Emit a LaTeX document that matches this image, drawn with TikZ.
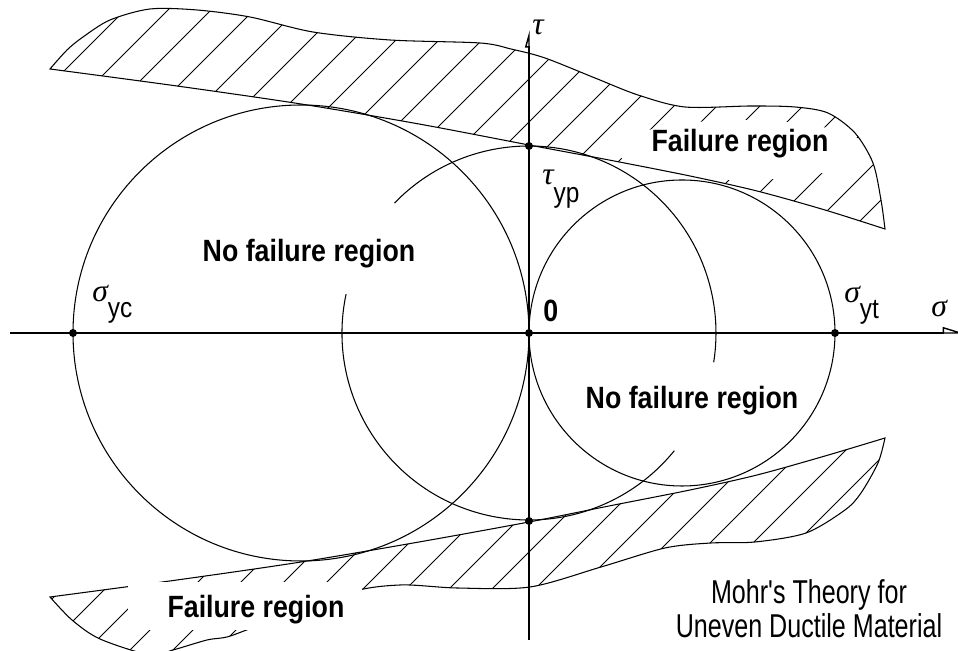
\documentclass[tikz,border=0pt]{standalone}
\usepackage{fontspec}
\usepackage{tikz}
\usetikzlibrary{arrows.meta, positioning}
\newfontfamily\labelfont[FakeStretch=0.87]{Liberation Sans}
\newfontfamily\notefont[FakeStretch=0.76]{Liberation Sans}
\newfontfamily\greekfont{Liberation Serif}
\newcommand\gsym[1]{{\greekfont\itshape\fontsize{18}{20}\selectfont #1}}

% outlines of the two hatched failure regions (1 unit = 1 px of the sketch)
\newcommand\upperband{plot[smooth] coordinates {(-479,264) (-462,283) (-446,296)
  (-419,313) (-379,324) (-332,323) (-279,316) (-216,301) (-139,293) (-49,290)
  (-18,284) (16,275) (66,255) (109,238) (156,226) (222,227) (266,226) (299,220)
  (326,200) (344,170) (352,133) (356,104)}
  -- plot[smooth] coordinates {(356,104) (296,123) (228,142) (161,157) (80,173)
  (0,188) (-110,209) (-228,229) (-352,247) (-479,264)} -- cycle}
\newcommand\lowerband{plot[smooth] coordinates {(-479,-264) (-352,-247)
  (-228,-229) (-110,-209) (0,-189) (80,-173) (161,-157) (228,-142) (296,-123)
  (356,-105)}
  -- plot[smooth] coordinates {(356,-105) (349,-130) (332,-160) (316,-177)
  (277,-200) (226,-209) (182,-210) (136,-215) (72,-234) (1,-254) (-72,-255)
  (-129,-252) (-182,-260) (-277,-295) (-302,-304) (-322,-307) (-356,-317)
  (-379,-322) (-429,-306) (-457,-287) (-479,-264)} -- cycle}

\begin{document}
\begin{tikzpicture}[
  x=0.02cm, y=0.02cm,
  curve/.style={line width=0.6pt},
  hatch/.style={line width=0.5pt},
  axis/.style={line width=0.8pt},
  dot/.style={circle, fill, inner sep=0pt, minimum size=0.16cm},
  region/.style={font=\labelfont\bfseries\fontsize{17.5}{21}\selectfont,
                 inner sep=0pt, anchor=base},
  sym/.style={font=\labelfont\fontsize{16}{19}\selectfont, inner sep=0pt,
              anchor=base west},
  note/.style={font=\notefont\fontsize{18.8}{19.3}\selectfont, align=center,
               inner sep=0pt},
]
\useasboundingbox (-529,-318) rectangle (429,333);

% Hatching
\begin{scope}
  \clip \upperband;
  \foreach \sh in {-856,-813,...,692}
    \draw[hatch] (\sh,0) ++(-400,-400) -- ++(800,800);
\end{scope}
\begin{scope}
  \clip \lowerband;
  \foreach \sh in {-856,-813,...,692}
    \draw[hatch] (\sh,0) ++(-400,-400) -- ++(800,800);
\end{scope}
\fill[white] (213,183) ellipse [x radius=125, y radius=30];

\draw[curve] \upperband;
\draw[curve] \lowerband;

% Mohr circles
\coordinate (cl) at (-228,0);
\coordinate (cr) at (153,0);
\draw[curve] (cl) circle[radius=228];
\draw[curve] (cr) circle[radius=153];
\draw[curve] (0,0) ++(136:187) arc[start angle=136, end angle=-9, radius=187];
\draw[curve] (0,0) ++(168:187) arc[start angle=168, end angle=321, radius=187];

% Axes
\draw[axis, -{Triangle[open, harpoon, length=0.4cm, width=0.24cm]}]
  (-519,0) -- (436,0);
\draw[axis, -{Triangle[open, harpoon, length=0.3cm, width=0.16cm]}]
  (0,-307) -- (0,303);

\node[dot] (syc) at (-456,0) {};
\node[dot] (orig) at (0,0) {};
\node[dot] (syt) at (306,0) {};
\node[dot] (typ) at (0,187) {};
\node[dot] (tyn) at (0,-188) {};

% Labels
\node[sym] (lsyc) at (-437,31) {\gsym{σ}\raisebox{-9pt}{yc}};
\node[sym] (lsyt) at (315,30) {\gsym{σ}\raisebox{-9pt}{yt}};
\node[sym] (lsig) at (402,16) {\gsym{σ}};
\node[sym] (ltau) at (3,298) {\gsym{τ}};
\node[sym] (ltyp) at (13,148) {\gsym{τ}\raisebox{-10pt}{yp}};
\node[region, anchor=base west] (lorig) at (14,11) {0};

\node[region] (nfl) at (-220,71) {No failure region};
\node[region] (nfr) at (163,-76) {No failure region};
\node[region] (fup) at (211,181) {Failure region};
\fill[white] (-401,-297) rectangle (-167,-249);
\node[region] (flo) at (-273,-285) {Failure region};

\node[note] (title) at (280,-276) {Mohr's Theory for\\Uneven Ductile Material};
\end{tikzpicture}
\end{document}
